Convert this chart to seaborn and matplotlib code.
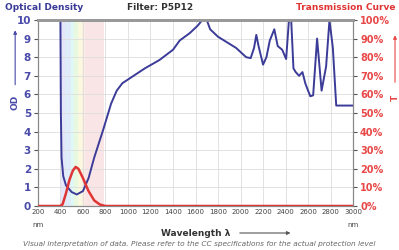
import numpy as np
import pandas as pd
import matplotlib
matplotlib.use("Agg")
import matplotlib.pyplot as plt
import seaborn as sns

# --- data -------------------------------------------------------------
od_wavelength = [200, 400, 404, 410, 425, 450, 500, 545, 600, 650, 700, 780, 850, 900,
                 950, 1050, 1150, 1280, 1400, 1460, 1550, 1620, 1660, 1700, 1730, 1800,
                 1880, 1960, 2050, 2090, 2120, 2140, 2160, 2200, 2230, 2260, 2300, 2330,
                 2370, 2405, 2430, 2450, 2470, 2490, 2520, 2550, 2575, 2600, 2620, 2645,
                 2680, 2720, 2760, 2790, 2820, 2850, 2910, 3000]
od_values = [10, 10, 5.0, 2.6, 1.6, 1.1, 0.75, 0.62, 0.8, 1.5, 2.6, 4.1, 5.5, 6.2,
             6.6, 7.0, 7.4, 7.85, 8.4, 8.9, 9.3, 9.7, 10, 10, 9.5, 9.1,
             8.8, 8.5, 8.0, 7.95, 8.5, 9.2, 8.6, 7.6, 8.0, 8.9, 9.5, 8.6,
             8.4, 7.9, 10, 10, 7.4, 7.2, 7.0, 7.2, 6.6, 6.2, 5.9, 5.95,
             9.0, 6.2, 7.5, 10, 8.5, 5.4, 5.4, 5.4]

tr_wavelength = [200, 400, 420, 450, 480, 510, 535, 560, 600, 650, 700, 750, 800, 3000]
tr_values = [0, 0, 1, 7, 14, 19, 21, 20, 15, 8, 3, 0.8, 0, 0]

x_ticks = [200, 400, 600, 800, 1000, 1200, 1400, 1600, 1800, 2000, 2200, 2400, 2600, 2800, 3000]
od_ticks = list(range(0, 11))
tr_ticks = list(range(0, 101, 10))

band_edges = [400, 440, 490, 520, 560, 590, 620, 790]
band_colors = ["#c8c8f4", "#b8d8f4", "#b8f0ec", "#cff2b8", "#f4f2b8", "#f8dcc0", "#f6c6c8"]

# --- figure ----------------------------------------------------------
sns.set_style("white")
plt.rcParams['font.family'] = ['DejaVu Sans']
fig = plt.figure(figsize=(3.99, 2.5), dpi=100)
ax = fig.add_axes([0.095, 0.176, 0.79, 0.744])
ax2 = ax.twinx()

for lo, hi, c in zip(band_edges[:-1], band_edges[1:], band_colors):
    ax.axvspan(lo, hi, color=c, alpha=0.45, lw=0, zorder=0)

od_df = pd.DataFrame({"wl": od_wavelength, "od": od_values})
tr_df = pd.DataFrame({"wl": tr_wavelength, "t": tr_values})

sns.lineplot(data=od_df, x="wl", y="od", ax=ax, color="#3b3b98", lw=1.4,
             sort=False, estimator=None, zorder=3)
sns.lineplot(data=tr_df, x="wl", y="t", ax=ax2, color="#e03535", lw=1.8,
             sort=False, estimator=None, zorder=3)

ax.set_xlim(200, 3000)
ax.set_ylim(0, 10)
ax2.set_ylim(0, 100)
ax.set_xticks(x_ticks)
ax.set_yticks(od_ticks)
ax2.set_yticks(tr_ticks)
ax.set_xticklabels([str(t) for t in x_ticks], fontsize=5, color="#444444")
ax.set_yticklabels([str(t) for t in od_ticks], fontsize=7.5, color="#4a4aaa", fontweight="bold")
ax2.set_yticklabels([f"{t}%" for t in tr_ticks], fontsize=7, color="#e84848", fontweight="bold")
ax.set_xlabel("")
ax.set_ylabel("")
ax2.set_ylabel("")
ax.grid(True, color="#dddddd", lw=0.6)
ax.set_axisbelow(True)
ax.tick_params(axis="both", length=3, width=0.8, pad=2, color="#555555")
ax2.tick_params(axis="y", length=3, width=0.8, pad=2, color="#555555")
ax.tick_params(axis="x", direction="in")

for a in (ax, ax2):
    for s in ("left", "right", "bottom"):
        a.spines[s].set_color("#888888")
        a.spines[s].set_linewidth(0.8)
    a.spines["top"].set_color("#999999")
    a.spines["top"].set_linewidth(2.0)
ax2.patch.set_visible(False)

# --- text ------------------------------------------------------------
fig.text(0.012, 0.972, "Optical Density", fontsize=6.5, fontweight="bold",
         color="#3b3b98", va="center", ha="left")
fig.text(0.40, 0.972, "Filter: P5P12", fontsize=6.5, fontweight="bold",
         color="#333333", va="center", ha="center")
fig.text(0.99, 0.972, "Transmission Curve", fontsize=6.5, fontweight="bold",
         color="#e03535", va="center", ha="right")

fig.text(0.038, 0.592, "OD", fontsize=6.5, fontweight="bold", color="#4a4aaa",
         rotation=90, ha="center", va="center")
fig.patches.append(matplotlib.patches.FancyArrowPatch(
    (0.038, 0.65), (0.038, 0.89), transform=fig.transFigure,
    arrowstyle="-|>", mutation_scale=5, color="#4a4aaa", lw=0.8))
fig.text(0.99, 0.608, "T", fontsize=6.5, fontweight="bold", color="#e84848",
         rotation=90, ha="center", va="center")
fig.patches.append(matplotlib.patches.FancyArrowPatch(
    (0.99, 0.66), (0.99, 0.87), transform=fig.transFigure,
    arrowstyle="-|>", mutation_scale=5, color="#e84848", lw=0.8))

fig.text(0.095, 0.1, "nm", fontsize=5, color="#444444", ha="center", va="center")
fig.text(0.885, 0.1, "nm", fontsize=5, color="#444444", ha="center", va="center")
fig.text(0.578, 0.068, "Wavelength λ", fontsize=6.5, fontweight="bold",
         color="#333333", ha="right", va="center")
fig.patches.append(matplotlib.patches.FancyArrowPatch(
    (0.594, 0.068), (0.735, 0.068), transform=fig.transFigure,
    arrowstyle="-|>", mutation_scale=5, color="#555555", lw=0.8))
fig.text(0.5, 0.026, "Visual interpretation of data. Please refer to the CC specifications for the actual protection level",
         fontsize=5.3, style="italic", color="#666666", ha="center", va="center")

fig.savefig("out.png", dpi=100)
